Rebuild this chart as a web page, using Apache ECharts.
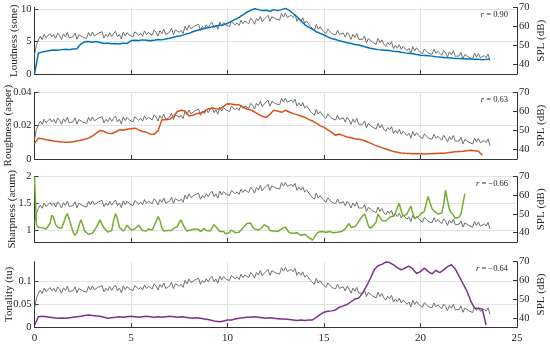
<!DOCTYPE html>
<html>
<head>
<meta charset="utf-8">
<script src="https://cdn.jsdelivr.net/npm/echarts@6/dist/echarts.min.js"></script>
<style>html,body{margin:0;padding:0;background:#fff}#c{width:550px;height:344px}</style>
</head>
<body>
<div id="c"></div>
<script>
// ---------- DATA ----------
const xTicks = [0, 5, 10, 15, 20, 25];
const splTicks = [40, 50, 60, 70];
const panelNames = ['Loudness (sone)', 'Roughness (asper)', 'Sharpness (acum)', 'Tonality (tu)'];
const leftTicks1 = [0, 5, 10];
const leftTicks2 = [0, 0.02, 0.04];
const leftTicks3 = [1, 1.5, 2];
const leftTicks4 = [0, 0.05, 0.1];
const rValues = ['0.90', '0.63', '\u22120.66', '\u22120.64'];

// SPL (dB), sampled every 0.1 s
const splStep = 0.1;
const spl = [
  45.0, 50.5, 53.0, 54.8, 53.1, 55.9, 54.0, 53.4, 56.2, 54.5,
  55.8, 53.8, 56.5, 55.3, 53.2, 56.1, 54.6, 56.9, 54.0, 54.8,
  54.6, 56.6, 53.3, 55.7, 56.4, 54.4, 55.4, 53.7, 56.9, 54.9,
  57.1, 55.0, 54.1, 56.4, 55.4, 57.3, 53.9, 55.9, 54.6, 56.7,
  54.7, 56.4, 57.5, 54.5, 55.9, 53.4, 57.1, 55.1, 56.8, 55.6,
  56.6, 54.5, 57.2, 57.8, 55.3, 56.4, 54.9, 57.7, 55.7, 56.9,
  57.5, 55.5, 58.2, 57.0, 54.9, 57.8, 56.3, 58.6, 55.7, 56.5,
  57.0, 59.0, 55.7, 58.2, 58.9, 56.9, 58.0, 56.3, 60.1, 58.1,
  60.8, 58.8, 57.9, 60.2, 59.3, 61.2, 57.9, 60.0, 58.7, 60.9,
  59.3, 61.1, 62.2, 59.3, 60.8, 58.5, 62.3, 60.2, 62.0, 60.9,
  61.9, 59.9, 62.6, 63.2, 60.8, 61.9, 60.5, 63.3, 61.5, 62.9,
  63.4, 61.5, 64.3, 63.2, 61.2, 64.2, 62.9, 65.3, 62.5, 63.8,
  63.9, 65.9, 62.7, 65.2, 66.0, 64.0, 65.0, 63.4, 66.8, 64.9,
  66.9, 64.8, 63.8, 65.9, 64.7, 66.4, 62.7, 64.4, 62.8, 64.6,
  61.7, 62.9, 63.5, 60.0, 60.9, 57.9, 61.1, 58.6, 59.9, 58.3,
  58.6, 56.3, 58.7, 59.1, 56.3, 57.2, 55.5, 58.0, 55.8, 56.8,
  56.6, 54.4, 56.9, 55.5, 53.2, 55.9, 54.2, 56.3, 53.2, 53.8,
  53.2, 55.0, 51.4, 53.6, 54.1, 51.8, 52.6, 50.7, 53.7, 51.4,
  53.0, 50.7, 49.5, 51.6, 50.3, 52.0, 48.4, 50.1, 48.6, 50.5,
  48.0, 49.5, 50.5, 47.3, 48.5, 45.9, 49.4, 47.2, 48.8, 47.4,
  47.8, 45.6, 48.2, 48.6, 46.0, 47.0, 45.4, 48.0, 45.9, 47.0,
  46.9, 44.8, 47.4, 46.1, 43.9, 46.7, 45.1, 47.3, 44.3, 45.0,
  44.5, 46.4, 43.0, 45.3, 45.9, 43.8, 44.7, 42.9, 46.0, 43.9,
  45.7, 43.5, 42.5, 44.7, 43.6, 45.5, 42.0
];

// Loudness (sone), every 0.2 s
const loudStep = 0.2;
const loudness = [
  0.0, 3.2, 3.4, 3.5, 3.6, 3.7, 3.65, 3.75, 3.8, 3.75,
  3.85, 3.9, 4.6, 4.95, 5.0, 4.9, 5.0, 4.85, 4.7, 4.75,
  4.65, 4.7, 4.6, 4.75, 4.7, 5.1, 5.2, 5.15, 5.25, 5.2,
  5.1, 5.2, 5.3, 5.25, 5.4, 5.5, 5.65, 5.8, 5.9, 6.1,
  6.25, 6.5, 6.7, 6.85, 7.0, 7.1, 7.25, 7.4, 7.5, 7.55,
  7.8, 8.1, 8.4, 8.7, 9.1, 9.5, 9.8, 10.05, 9.9, 9.75,
  9.8, 9.65, 9.9, 9.75, 9.9, 10.1, 9.8, 9.3, 8.8, 8.2,
  7.6, 7.2, 6.9, 6.5, 6.25, 6.0, 5.7, 5.45, 5.3, 5.1,
  4.95, 4.8, 4.7, 4.55, 4.45, 4.3, 4.1, 3.95, 3.85, 3.75,
  3.7, 3.65, 3.6, 3.5, 3.45, 3.35, 3.25, 3.2, 3.1, 3.0,
  2.9, 2.85, 2.8, 2.75, 2.65, 2.6, 2.55, 2.5, 2.45, 2.4,
  2.4, 2.35, 2.3, 2.3, 2.25, 2.25, 2.2, 2.25, 2.3
];

// Roughness (asper), every 0.2 s
const roughStep = 0.2;
const roughness = [
  0.0094, 0.0125, 0.0122, 0.0115, 0.0112, 0.0108, 0.0105, 0.0102, 0.0101, 0.0100,
  0.0104, 0.0108, 0.0113, 0.0118, 0.0125, 0.0138, 0.0155, 0.0172, 0.0165, 0.0155,
  0.0153, 0.0162, 0.0175, 0.0172, 0.0178, 0.0182, 0.0185, 0.0175, 0.0165, 0.0160,
  0.0150, 0.0148, 0.0170, 0.0235, 0.0236, 0.0238, 0.0255, 0.0285, 0.0292, 0.0288,
  0.0258, 0.0262, 0.0272, 0.0276, 0.0285, 0.0300, 0.0305, 0.0302, 0.0300, 0.0315,
  0.0332, 0.0330, 0.0326, 0.0325, 0.0312, 0.0300, 0.0295, 0.0282, 0.0268, 0.0256,
  0.0250, 0.0268, 0.0292, 0.0288, 0.0280, 0.0292, 0.0282, 0.0272, 0.0266, 0.0258,
  0.0250, 0.0238, 0.0228, 0.0215, 0.0200, 0.0190, 0.0175, 0.0160, 0.0142, 0.0150,
  0.0140, 0.0132, 0.0128, 0.0122, 0.0118, 0.0114, 0.0105, 0.0095, 0.0085, 0.0076,
  0.0068, 0.0060, 0.0052, 0.0045, 0.0040, 0.0036, 0.0034, 0.0033, 0.0032, 0.0031,
  0.0031, 0.0030, 0.0031, 0.0032, 0.0033, 0.0034, 0.0035, 0.0037, 0.0040, 0.0043,
  0.0045, 0.0047, 0.0050, 0.0052, 0.0050, 0.0047, 0.0022
];

// Sharpness (acum), every 0.1 s
const sharpStep = 0.1;
const sharpness = [
  2.00, 1.10, 1.05, 1.08, 1.04, 1.06, 1.02, 1.07, 1.12, 1.28,
  1.22, 1.10, 1.05, 1.08, 1.03, 1.12, 1.24, 1.31, 1.20, 1.08,
  0.96, 0.90, 0.95, 1.08, 1.19, 1.10, 0.98, 0.95, 0.92, 0.90,
  0.94, 0.99, 1.05, 1.12, 1.19, 1.10, 1.04, 1.00, 0.96, 0.94,
  0.99, 1.18, 1.31, 1.20, 1.05, 1.02, 0.98, 1.03, 1.09, 1.06,
  1.00, 0.97, 1.02, 1.05, 1.09, 1.04, 0.99, 0.96, 0.98, 1.02,
  1.04, 1.00, 1.08, 1.16, 1.25, 1.18, 1.04, 0.98, 0.96, 0.99,
  1.01, 0.99, 1.03, 1.00, 1.06, 1.14, 1.19, 1.10, 1.03, 0.98,
  0.97, 1.00, 0.98, 1.02, 0.99, 1.01, 0.97, 1.00, 1.03, 0.99,
  0.96, 0.98, 1.04, 1.10, 1.12, 1.02, 0.97, 0.95, 0.97, 0.93,
  0.92, 0.95, 1.00, 0.98, 0.95, 0.93, 0.96, 1.00, 1.03, 1.08,
  1.12, 1.15, 1.13, 1.06, 1.02, 1.03, 1.00, 0.97, 1.05, 1.10,
  1.12, 1.06, 0.99, 0.96, 0.98, 1.00, 0.97, 0.99, 1.02, 1.04,
  1.06, 1.00, 0.95, 0.92, 0.94, 0.97, 0.95, 0.93, 0.90, 0.88,
  0.92, 0.90, 0.86, 0.84, 0.81, 0.86, 0.92, 0.96, 0.94, 0.97,
  0.98, 0.96, 0.94, 0.97, 0.99, 0.95, 0.93, 0.96, 0.98, 0.97,
  0.99, 1.02, 1.08, 1.12, 1.05, 1.02, 1.06, 1.10, 1.16, 1.22,
  1.22, 1.30, 1.20, 1.08, 1.03, 1.06, 1.10, 1.15, 1.30, 1.24,
  1.18, 1.15, 1.17, 1.20, 1.24, 1.22, 1.26, 1.32, 1.42, 1.50,
  1.36, 1.26, 1.24, 1.30, 1.38, 1.45, 1.32, 1.22, 1.20, 1.25,
  1.30, 1.28, 1.35, 1.50, 1.63, 1.50, 1.40, 1.36, 1.33, 1.30,
  1.28, 1.32, 1.48, 1.75, 1.55, 1.38, 1.32, 1.28, 1.22, 1.20,
  1.24, 1.30, 1.50, 1.68
];

// Tonality (tu), every 0.2 s
const tonalStep = 0.2;
const tonality = [
  0.004, 0.023, 0.024, 0.023, 0.022, 0.021, 0.020, 0.0205, 0.020, 0.021,
  0.022, 0.023, 0.024, 0.026, 0.027, 0.026, 0.025, 0.024, 0.022, 0.020,
  0.021, 0.022, 0.023, 0.022, 0.023, 0.024, 0.023, 0.022, 0.023, 0.024,
  0.023, 0.022, 0.023, 0.022, 0.023, 0.024, 0.023, 0.022, 0.023, 0.022,
  0.021, 0.020, 0.021, 0.020, 0.018, 0.017, 0.015, 0.013, 0.012, 0.014,
  0.016, 0.016, 0.018, 0.020, 0.021, 0.022, 0.022, 0.023, 0.022, 0.021,
  0.020, 0.021, 0.020, 0.019, 0.018, 0.018, 0.017, 0.016, 0.015, 0.016,
  0.015, 0.016, 0.016, 0.022, 0.028, 0.033, 0.035, 0.036, 0.038, 0.044,
  0.047, 0.050, 0.056, 0.062, 0.064, 0.075, 0.090, 0.107, 0.126, 0.135,
  0.138, 0.143, 0.142, 0.137, 0.131, 0.126, 0.130, 0.134, 0.128, 0.118,
  0.122, 0.130, 0.122, 0.117, 0.125, 0.120, 0.126, 0.133, 0.137, 0.128,
  0.112, 0.096, 0.080, 0.058, 0.042, 0.041, 0.040, 0.005
];

// ---------- CHART ----------
function pairs(arr, step) { return arr.map((v, i) => [Math.round(i * step * 100) / 100, v]); }

const FONT = '"Liberation Serif", "DejaVu Serif", serif';
const TXT = '#262626';
const AX = '#333333';
const GRID = '#e3e3e3';

const panels = [
  { top: 7.5, height: 66.5, min: 0, max: 10.23, ticks: leftTicks1, gap: 15, color: '#0072BD', data: pairs(loudness, loudStep) },
  { top: 92.3, height: 66.7, min: 0, max: 0.04, ticks: leftTicks2, gap: 21, color: '#D95319', data: pairs(roughness, roughStep) },
  { top: 176.7, height: 65.3, min: 0.775, max: 2, ticks: leftTicks3, gap: 16.5, color: '#77AC30', data: pairs(sharpness, sharpStep) },
  { top: 261.7, height: 65.6, min: 0, max: 0.1438, ticks: leftTicks4, gap: 19.5, color: '#7E2F8E', data: pairs(tonality, tonalStep) }
];

const grid = [], xAxis = [], yAxis = [], series = [], graphic = [];
const splData = pairs(spl, splStep);

panels.forEach((p, k) => {
  grid.push({ left: 34.5, right: 33, top: p.top, height: p.height, containLabel: false, outerBoundsMode: 'none' });
  xAxis.push({
    type: 'value', gridIndex: k, min: xTicks[0], max: xTicks[xTicks.length - 1], interval: 5,
    axisLine: { show: true, onZero: false, lineStyle: { color: AX, width: 1 } },
    axisTick: { show: true, inside: true, length: 4, lineStyle: { color: AX } },
    axisLabel: { show: k === 3, color: TXT, fontFamily: FONT, fontSize: 11, margin: 5 },
    splitLine: { show: true, lineStyle: { color: GRID, width: 1 } }
  });
  yAxis.push({
    type: 'value', gridIndex: k, position: 'left', min: p.min, max: p.max,
    name: panelNames[k], nameLocation: 'middle', nameRotate: 90, nameGap: p.gap, nameMoveOverlap: false,
    nameTextStyle: { color: TXT, fontFamily: FONT, fontSize: 11 },
    axisLine: { show: true, onZero: false, lineStyle: { color: AX, width: 1 } },
    axisTick: { show: true, inside: true, length: 4, customValues: p.ticks, lineStyle: { color: AX } },
    axisLabel: { show: true, customValues: p.ticks, color: TXT, fontFamily: FONT, fontSize: 10.5, margin: 3 },
    splitLine: { show: true, lineStyle: { color: GRID, width: 1 } }
  });
  yAxis.push({
    type: 'value', gridIndex: k, position: 'right', min: 35, max: 70,
    name: 'SPL (dB)', nameLocation: 'middle', nameRotate: 90, nameGap: 19, nameMoveOverlap: false,
    nameTextStyle: { color: TXT, fontFamily: FONT, fontSize: 11 },
    axisLine: { show: true, onZero: false, lineStyle: { color: AX, width: 1 } },
    axisTick: { show: true, inside: true, length: 4, customValues: splTicks, lineStyle: { color: AX } },
    axisLabel: { show: true, customValues: splTicks, color: TXT, fontFamily: FONT, fontSize: 10.5, margin: 2 },
    splitLine: { show: false }
  });
  series.push({
    type: 'line', xAxisIndex: k, yAxisIndex: 2 * k + 1, data: splData,
    showSymbol: false, symbol: 'none', z: 2, silent: true,
    lineStyle: { color: '#707070', width: 1 }
  });
  series.push({
    type: 'line', xAxisIndex: k, yAxisIndex: 2 * k, data: p.data,
    showSymbol: false, symbol: 'none', z: 3, silent: true,
    lineStyle: { color: p.color, width: 1.5 }
  });
  graphic.push({
    type: 'text', x: 508, y: p.top + 7.5, silent: true,
    style: {
      text: '{i|r} = ' + rValues[k], align: 'right', verticalAlign: 'middle',
      fontFamily: FONT, fontSize: 8.5, fill: TXT,
      rich: { i: { fontStyle: 'italic', fontFamily: FONT, fontSize: 8.5, fill: TXT } }
    }
  });
});

const chart = echarts.init(document.getElementById('c'), null, { renderer: 'canvas' });
chart.setOption({ animation: false, backgroundColor: '#ffffff', grid, xAxis, yAxis, series, graphic });
</script>
</body>
</html>
